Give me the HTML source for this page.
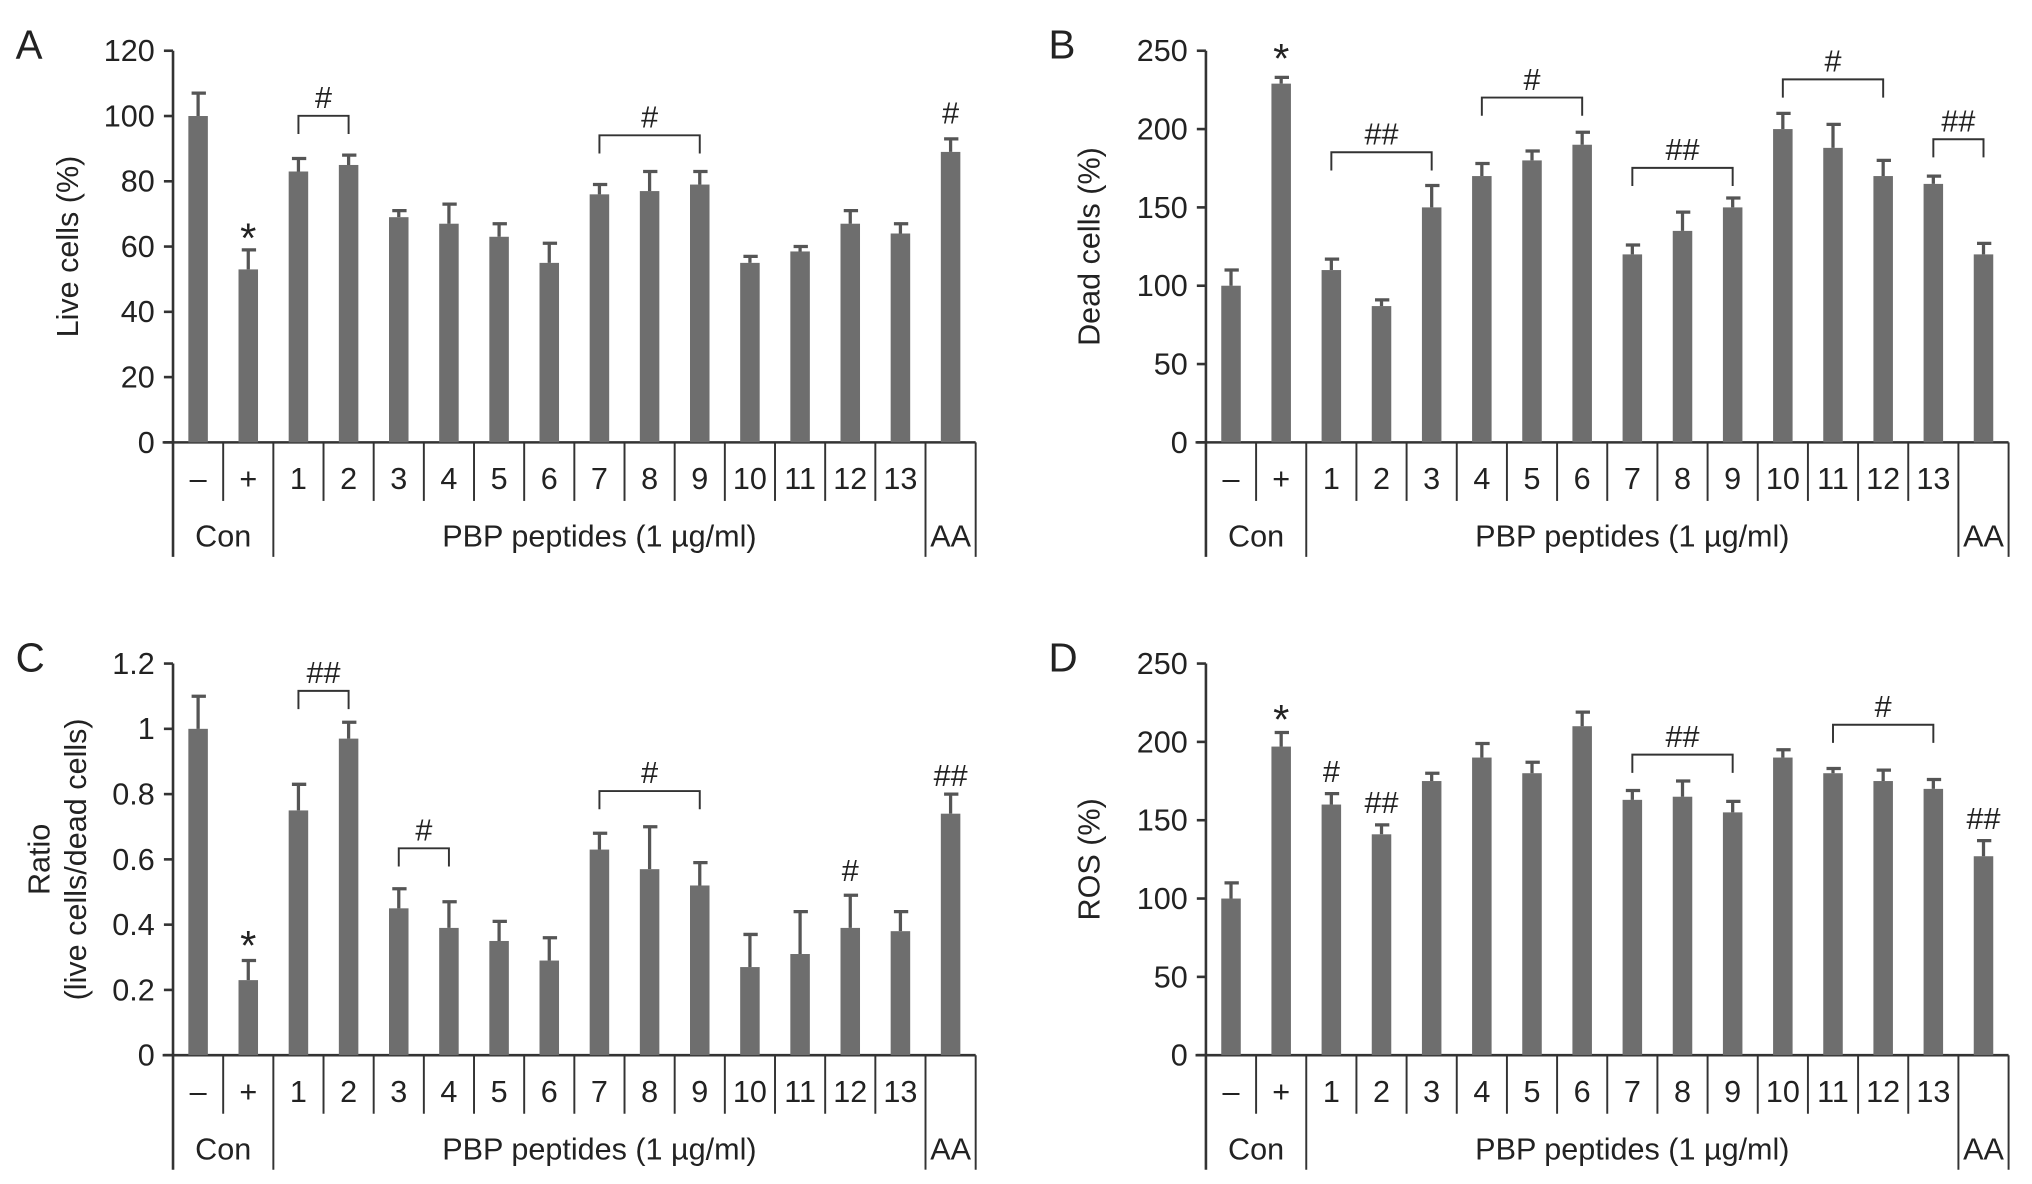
<!DOCTYPE html>
<html><head><meta charset="utf-8"><style>
html,body{margin:0;padding:0;background:#fff}
svg{display:block}
text{font-family:"Liberation Sans",Arial,sans-serif;fill:#222}
</style></head><body>
<svg id="fig" width="2032" height="1184" viewBox="0 0 1562 910" preserveAspectRatio="none" xmlns="http://www.w3.org/2000/svg"></svg>
<script>
const categories = ["\u2013","+","1","2","3","4","5","6","7","8","9","10","11","12","13",""];
const liveVals = [100,53,83,85,69,67,63,55,76,77,79,55,58.5,67,64,89];
const liveErr  = [7,6,4,3,2,6,4,6,3,6,4,2,1.5,4,3,4];
const deadVals = [100,229,110,87,150,170,180,190,120,135,150,200,188,170,165,120];
const deadErr  = [10,4,7,4,14,8,6,8,6,12,6,10,15,10,5,7];
const ratioVals = [1.0,0.23,0.75,0.97,0.45,0.39,0.35,0.29,0.63,0.57,0.52,0.27,0.31,0.39,0.38,0.74];
const ratioErr  = [0.1,0.06,0.08,0.05,0.06,0.08,0.06,0.07,0.05,0.13,0.07,0.1,0.13,0.1,0.06,0.06];
const rosVals = [100,197,160,141,175,190,180,210,163,165,155,190,180,175,170,127];
const rosErr  = [10,9,7,6,5,9,7,9,6,10,7,5,3,7,6,10];
const liveTicks = ["0","20","40","60","80","100","120"];
const deadTicks = ["0","50","100","150","200","250"];
const ratioTicks = ["0","0.2","0.4","0.6","0.8","1","1.2"];
const rosTicks = ["0","50","100","150","200","250"];

const NS="http://www.w3.org/2000/svg";
const svg=document.getElementById('fig');
function mk(tag,attrs,parent,txt){const e=document.createElementNS(NS,tag);for(const k in attrs)e.setAttribute(k,attrs[k]);if(txt!==undefined)e.textContent=txt;(parent||svg).appendChild(e);return e;}

function panel(cfg){
  const g=mk('g',{});
  
  
  const x0=cfg.x0,x1=cfg.x0+617,yTop=cfg.yTop,yBot=cfg.yTop+301;
  const n=categories.length,cw=(x1-x0)/n;
  const ys=v=>yBot-(v/cfg.max)*(yBot-yTop);
  const xc=i=>x0+cw*(i+0.5);
  const L=mk('text',{x:cfg.x0-121,y:yTop+6,'font-size':31},g,cfg.letter);
  
  
  const ax=mk('line',{x1:x0,y1:yTop,x2:x0,y2:yBot+88,stroke:'#333','stroke-width':2},g);
  
  
  cfg.ticks.forEach((t,i)=>{
    const v=cfg.max*i/(cfg.ticks.length-1);const y=ys(v);
    mk('line',{x1:x0-7,y1:y,x2:x0,y2:y,stroke:'#333','stroke-width':2},g);
    const tl=mk('text',{x:x0-14,y:y+8,'font-size':23.5,'text-anchor':'end'},g,t);
    
    
  });
  const tx=cfg.titleX;
  cfg.title.forEach((line,k)=>{
    const yt=mk('text',{x:0,y:0,'font-size':23.5,'text-anchor':'middle',transform:`translate(${tx+k*28},${(yTop+yBot)/2}) rotate(-90)`},g,line);
    
    
  });
  const xa=mk('line',{x1:x0-8,y1:yBot,x2:x1,y2:yBot,stroke:'#333','stroke-width':2},g);
  
  
  for(let i=1;i<=n;i++){
    const xx=x0+cw*i;
    const long=(i===2||i===15||i===16);
    mk('line',{x1:xx,y1:yBot,x2:xx,y2:yBot+(long?88:45),stroke:'#333','stroke-width':1.5},g);
  }
  categories.forEach((c,i)=>{
    const cl=mk('text',{x:xc(i),y:yBot+36,'font-size':23.5,'text-anchor':'middle'},g,c);
    
    
  });
  const grp=[["Con",x0+cw],["PBP peptides (1 \u00b5g/ml)",x0+cw*8.5],["AA",x0+cw*15.5]];
  grp.forEach(([t,x])=>{
    const gl=mk('text',{x:x,y:yBot+80,'font-size':23.5,'text-anchor':'middle'},g,t);
    
    
  });
  cfg.vals.forEach((v,i)=>{
    const bx=xc(i)-7.5,by=ys(v);
    const b=mk('rect',{x:bx,y:by,width:15,height:yBot-by,fill:'#6e6e6e'},g);
    
    
    const ey=ys(v+cfg.err[i]);
    const e=mk('path',{d:`M${xc(i)},${by} V${ey} M${xc(i)-5},${ey} H${xc(i)+6}`,stroke:'#555','stroke-width':2.5,fill:'none'},g);
    
    
  });
  cfg.ann.forEach(a=>{
    if(a.type==='br'){
      const xa1=xc(a.from),xa2=xc(a.to),y=a.y;
      const p=mk('path',{d:`M${xa1},${y+14} V${y} H${xa2} V${y+14}`,stroke:'#333','stroke-width':1.5,fill:'none'},g);
      
      
      const t=mk('text',{x:(xa1+xa2)/2,y:y-6,'font-size':23.5,'text-anchor':'middle'},g,a.t);
      
      
    }else{
      const t=mk('text',{x:xc(a.at),y:a.y,'font-size':a.t==='*'?32:23.5,'text-anchor':'middle'},g,a.t);
      
      
    }
  });
}
panel({name:'panel-a-live-cells',letter:'A',x0:133,yTop:39,max:120,vals:liveVals,err:liveErr,ticks:liveTicks,title:['Live cells (%)'],titleX:60,
  ann:[{type:'br',from:2,to:3,y:89,t:'#'},{type:'br',from:8,to:10,y:104,t:'#'},{at:15,y:95,t:'#'},{at:1,y:194,t:'*'}]});
panel({name:'panel-b-dead-cells',letter:'B',x0:927,yTop:39,max:250,vals:deadVals,err:deadErr,ticks:deadTicks,title:['Dead cells (%)'],titleX:845,
  ann:[{type:'br',from:2,to:4,y:117,t:'##'},{type:'br',from:5,to:7,y:75,t:'#'},{type:'br',from:8,to:10,y:129,t:'##'},{type:'br',from:11,to:13,y:61,t:'#'},{type:'br',from:14,to:15,y:107,t:'##'},{at:1,y:56,t:'*'}]});
panel({name:'panel-c-ratio',letter:'C',x0:133,yTop:510,max:1.2,vals:ratioVals,err:ratioErr,ticks:ratioTicks,title:['Ratio','(live cells/dead cells)'],titleX:38,
  ann:[{type:'br',from:2,to:3,y:531,t:'##'},{type:'br',from:4,to:5,y:652,t:'#'},{type:'br',from:8,to:10,y:608,t:'#'},{at:13,y:677,t:'#'},{at:15,y:604,t:'##'},{at:1,y:738,t:'*'}]});
panel({name:'panel-d-ros',letter:'D',x0:927,yTop:510,max:250,vals:rosVals,err:rosErr,ticks:rosTicks,title:['ROS (%)'],titleX:845,
  ann:[{at:1,y:564,t:'*'},{at:2,y:601,t:'#'},{at:3,y:625,t:'##'},{type:'br',from:8,to:10,y:580,t:'##'},{type:'br',from:12,to:14,y:557,t:'#'},{at:15,y:637,t:'##'}]});
</script>
</body></html>
